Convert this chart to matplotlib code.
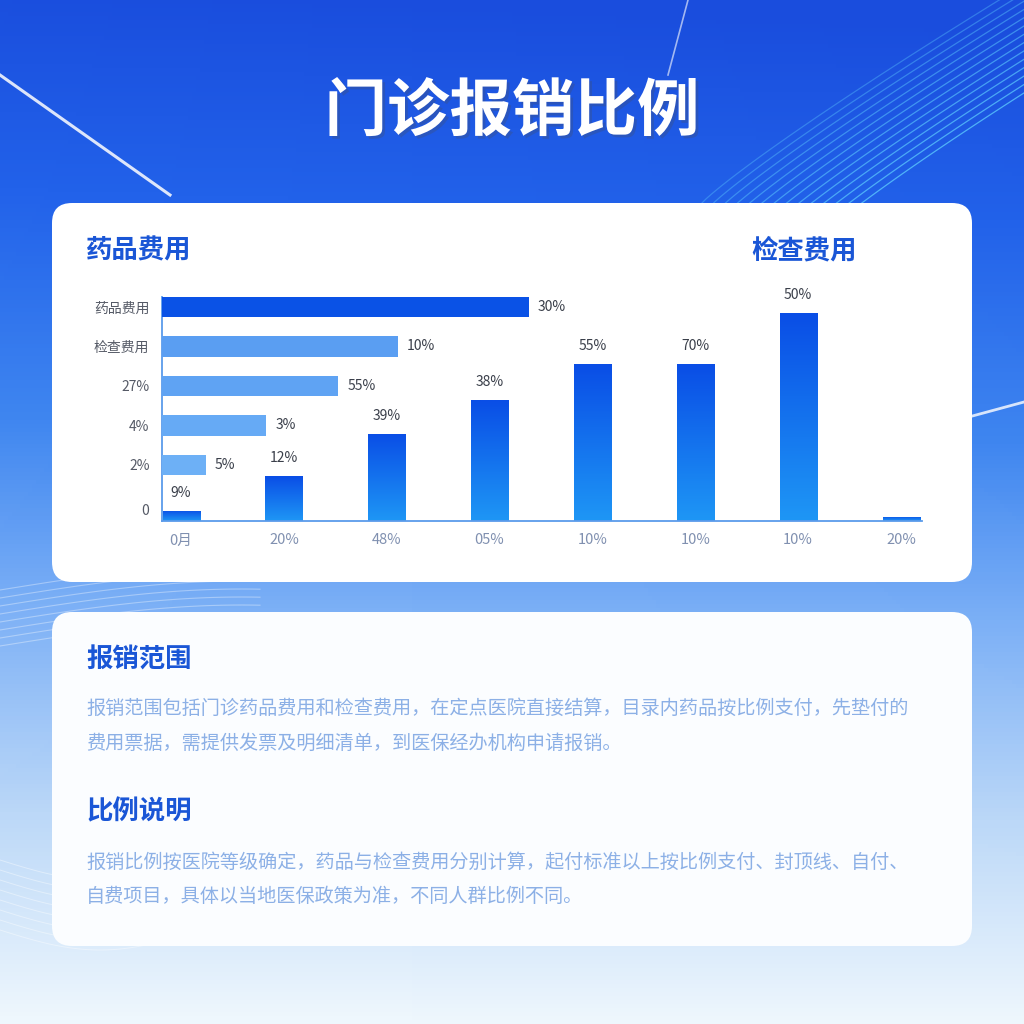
import numpy as np
import matplotlib
matplotlib.use("Agg")
import matplotlib.pyplot as plt
import matplotlib.patheffects as pe
from matplotlib.patches import FancyBboxPatch
from matplotlib.colors import LinearSegmentedColormap

plt.rcParams['font.family'] = ['Noto Sans CJK SC', 'DejaVu Sans']
plt.rcParams['axes.unicode_minus'] = False

# 数据
title = "门诊报销比例"
hbar_labels = ["药品费用", "检查费用", "27%", "4%", "2%"]
hbar_values = [48.3, 31, 23.2, 13.7, 5.8]
hbar_texts = ["30%", "10%", "55%", "3%", "5%"]
hbar_colors = ['#0a52e6', '#5a9ef2', '#5fa3f3', '#66aaf5', '#6db0f6']

vbar_labels = ["0月", "20%", "48%", "05%", "10%", "10%", "10%", "20%"]
vbar_values = [4.5, 20, 39, 54, 70, 70, 93, 2]
vbar_texts = ["9%", "12%", "39%", "38%", "55%", "70%", "50%", ""]

scope_title = "报销范围"
scope_lines = [
    "报销范围包括门诊药品费用和检查费用，在定点医院直接结算，目录内药品按比例支付，先垫付的",
    "费用票据，需提供发票及明细清单，到医保经办机构申请报销。",
]
ratio_title = "比例说明"
ratio_lines = [
    "报销比例按医院等级确定，药品与检查费用分别计算，起付标准以上按比例支付、封顶线、自付、",
    "自费项目，具体以当地医保政策为准，不同人群比例不同。",
]

fig = plt.figure(figsize=(10.24, 10.24), dpi=100)

# 背景
bg = fig.add_axes([0, 0, 1, 1])
bg.set_xlim(0, 1024)
bg.set_ylim(1024, 0)
bg.axis('off')

bg_cmap = LinearSegmentedColormap.from_list('bg', [
    (0.0, '#1a4ddd'), (0.2, '#2262ea'), (0.42, '#3f86f0'),
    (0.6, '#7cb0f6'), (0.8, '#bcd8f8'), (1.0, '#eef7fd')])
yy, xx = np.mgrid[0:1:256j, 0:1:256j]
grad = np.clip(yy - 0.04 * (xx - 0.5) * (1 - yy), 0, 1)
bg.imshow(grad, cmap=bg_cmap, extent=(0, 1024, 1024, 0), aspect='auto', zorder=0)

# 装饰线条
bg.plot([0, 170], [75, 195], color='white', lw=2.2, alpha=0.85, zorder=1)
bg.plot([688, 668], [0, 75], color='white', lw=1.2, alpha=0.6, zorder=1)
bg.plot([965, 1024], [418, 402], color='white', lw=2.0, alpha=0.8, zorder=1)
t = np.linspace(0, 1, 60)
for k in range(14):
    off = k * 9
    xs = 700 + off + 340 * t
    ys = 205 - 230 * t ** 0.9 + 0.3 * off
    bg.plot(xs, ys, color='#5fd0ff', lw=0.9, alpha=0.35 + 0.03 * k, zorder=1)
for k in range(8):
    xs = np.linspace(0, 260, 60)
    ys = 590 + k * 8 - 30 * np.sin(xs / 260 * np.pi / 2) + 0.02 * xs
    bg.plot(xs, ys, color='white', lw=0.8, alpha=0.35, zorder=1)
for k in range(8):
    xs = np.linspace(0, 200, 60)
    ys = 860 + k * 10 + 20 * np.sin(xs / 200 * np.pi)
    bg.plot(xs, ys, color='white', lw=0.7, alpha=0.4, zorder=1)

# 标题
bg.text(512, 112, title, fontsize=45, fontweight='bold', color='white',
        ha='center', va='center', zorder=3,
        path_effects=[pe.withSimplePatchShadow(offset=(2, -2), alpha=0.25)])

# 卡片
card1 = FancyBboxPatch((52, 203), 920, 379, boxstyle="round,pad=0,rounding_size=20",
                       fc='white', ec='none', zorder=2)
card2 = FancyBboxPatch((52, 612), 920, 334, boxstyle="round,pad=0,rounding_size=20",
                       fc='#fbfdff', ec='none', zorder=2)
bg.add_patch(card1)
bg.add_patch(card2)

head_color = '#1a56d6'
bg.text(86, 251, "药品费用", fontsize=19, fontweight='bold', color=head_color, va='center', zorder=3)
bg.text(751, 251, "检查费用", fontsize=19, fontweight='bold', color=head_color, va='center', zorder=3)

bg.text(86, 660, scope_title, fontsize=19, fontweight='bold', color=head_color, va='center', zorder=3)
for i, line in enumerate(scope_lines):
    bg.text(86, 708 + i * 35, line, fontsize=13.8, color='#8cb0e6', va='center', zorder=3)
bg.text(86, 812, ratio_title, fontsize=19, fontweight='bold', color=head_color, va='center', zorder=3)
for i, line in enumerate(ratio_lines):
    bg.text(86, 862 + i * 34, line, fontsize=13.8, color='#8cb0e6', va='center', zorder=3)

# 图表区域
rect = [162 / 1024, (1024 - 521) / 1024, 760 / 1024, 224 / 1024]
ax_v = fig.add_axes(rect)
ax_v.patch.set_alpha(0)
n = len(vbar_values)
xpos = np.arange(n)
bars = ax_v.bar(xpos, vbar_values, width=0.36, color='none', zorder=2)
vcmap = LinearSegmentedColormap.from_list('v', ['#1e96f5', '#0a4ee6'])
for b in bars:
    x0, w, h = b.get_x(), b.get_width(), b.get_height()
    g = np.linspace(0, 1, 100).reshape(-1, 1)
    im = ax_v.imshow(g, cmap=vcmap, extent=(x0, x0 + w, 0, h), origin='lower',
                     aspect='auto', zorder=2)
    im.set_clip_path(b)
for xi, v, s in zip(xpos, vbar_values, vbar_texts):
    if s:
        ax_v.annotate(s, (xi, v), xytext=(0, 13), textcoords='offset points',
                      ha='center', va='center', fontsize=10, color='#3a3f4a')
ax_v.set_xlim(-0.185, 7.204)
ax_v.set_ylim(0, 100)
ax_v.set_xticks(xpos)
ax_v.set_xticklabels(vbar_labels, fontsize=10.5, color='#8090b0')
ax_v.tick_params(axis='x', length=0, pad=9)
ax_v.set_yticks([])
for side in ['top', 'right']:
    ax_v.spines[side].set_visible(False)
for side in ['left', 'bottom']:
    ax_v.spines[side].set_color('#5b9bea')
    ax_v.spines[side].set_linewidth(1.3)

ax_h = fig.add_axes(rect)
ax_h.patch.set_alpha(0)
ypos = np.arange(len(hbar_values))
ax_h.barh(ypos, hbar_values, height=0.52, color=hbar_colors, zorder=3)
for yi, v, s in zip(ypos, hbar_values, hbar_texts):
    ax_h.annotate(s, (v, yi), xytext=(6.5, 0), textcoords='offset points',
                  ha='left', va='center', fontsize=10, color='#3a3f4a')
ax_h.set_xlim(0, 100)
ax_h.set_ylim(5.42, -0.25)
ax_h.set_yticks(list(ypos) + [5.12])
ax_h.set_yticklabels(hbar_labels + ["0"], fontsize=10, color='#555a66')
ax_h.tick_params(axis='y', length=0, pad=9)
ax_h.set_xticks([])
for s in ax_h.spines.values():
    s.set_visible(False)

fig.savefig('out.png', dpi=100)
